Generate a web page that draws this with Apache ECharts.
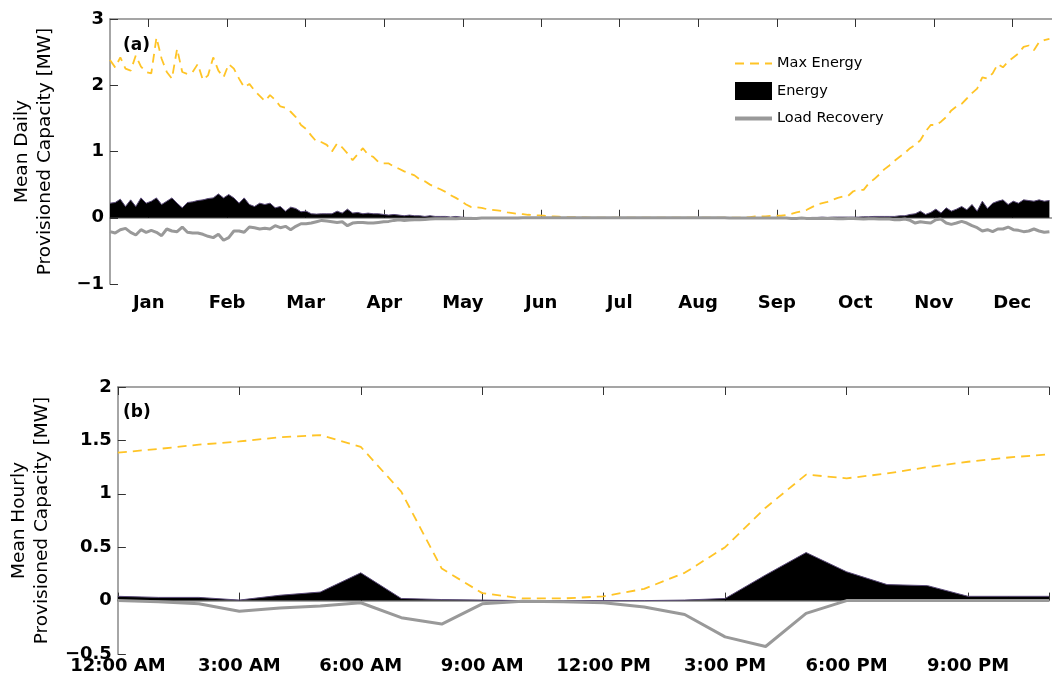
<!DOCTYPE html>
<html>
<head>
<meta charset="utf-8">
<script src="https://cdn.jsdelivr.net/npm/echarts@6/dist/echarts.min.js"></script>
<style>
html,body{margin:0;padding:0;background:#fff;}
#chart{width:1052px;height:683px;}
</style>
</head>
<body>
<div id="chart"></div>
<script>
// ---------- DATA ----------
const monthLabels = ['Jan','Feb','Mar','Apr','May','Jun','Jul','Aug','Sep','Oct','Nov','Dec'];
const monthTickDays = [15, 45.4, 75.8, 106.3, 136.7, 167.1, 197.5, 227.9, 258.4, 288.8, 319.2, 349.6];
const dayStep = 2; // one value every 2 days, starting at day 0

const maxEnergyDaily = [
  2.38, 2.27, 2.42, 2.25, 2.22, 2.45, 2.28, 2.20, 2.18, 2.72,
  2.40, 2.20, 2.10, 2.55, 2.20, 2.17, 2.20, 2.32, 2.08, 2.15,
  2.42, 2.22, 2.12, 2.32, 2.25, 2.10, 1.97, 2.02, 1.92, 1.84,
  1.76, 1.85, 1.78, 1.68, 1.66, 1.60, 1.52, 1.40, 1.34, 1.24,
  1.15, 1.14, 1.10, 1.00, 1.12, 1.06, 0.97, 0.87, 0.96, 1.05,
  0.95, 0.92, 0.84, 0.82, 0.82, 0.77, 0.74, 0.70, 0.67, 0.64,
  0.58, 0.55, 0.50, 0.46, 0.43, 0.39, 0.34, 0.30, 0.25, 0.20,
  0.16, 0.16, 0.15, 0.13, 0.12, 0.11, 0.10, 0.08, 0.07, 0.06,
  0.055, 0.045, 0.04, 0.035, 0.03, 0.025, 0.02, 0.015, 0.01, 0.01,
  0.01, 0.005, 0.005, 0, 0, 0, 0, 0, 0, 0,
  0, 0, 0, 0, 0, 0, 0, 0, 0, 0,
  0, 0, 0, 0, 0, 0, 0, 0, 0, 0,
  0, 0, 0, 0, 0.01, 0.02, 0.02, 0.02, 0.03, 0.03,
  0.03, 0.04, 0.06, 0.08, 0.10, 0.12, 0.16, 0.20, 0.22, 0.24,
  0.27, 0.30, 0.32, 0.33, 0.40, 0.42, 0.42, 0.52, 0.58, 0.65,
  0.73, 0.79, 0.86, 0.92, 0.98, 1.05, 1.10, 1.17, 1.30, 1.40,
  1.40, 1.45, 1.52, 1.62, 1.68, 1.72, 1.80, 1.88, 1.95, 2.12,
  2.10, 2.18, 2.32, 2.27, 2.36, 2.42, 2.48, 2.58, 2.60, 2.53,
  2.65, 2.68, 2.70
];

const energyDaily = [
  0.22, 0.23, 0.28, 0.17, 0.27, 0.17, 0.30, 0.22, 0.25, 0.30,
  0.20, 0.25, 0.30, 0.22, 0.15, 0.23, 0.24, 0.26, 0.27, 0.29,
  0.30, 0.36, 0.30, 0.35, 0.30, 0.22, 0.30, 0.20, 0.17, 0.22,
  0.20, 0.22, 0.15, 0.17, 0.10, 0.16, 0.14, 0.09, 0.10, 0.06,
  0.055, 0.06, 0.06, 0.06, 0.10, 0.07, 0.13, 0.07, 0.08, 0.06,
  0.07, 0.06, 0.06, 0.05, 0.04, 0.05, 0.04, 0.03, 0.04, 0.03,
  0.03, 0.02, 0.03, 0.02, 0.02, 0.02, 0.01, 0.02, 0.01, 0.005,
  0.005, 0, 0, 0, 0, 0, 0, 0, 0, 0,
  0, 0, 0, 0, 0, 0, 0, 0, 0, 0,
  0, 0, 0, 0, 0, 0, 0, 0, 0, 0,
  0, 0, 0, 0, 0, 0, 0, 0, 0, 0,
  0, 0, 0, 0, 0, 0, 0, 0, 0, 0,
  0, 0, 0, 0, 0, 0, 0, 0, 0, 0,
  0, 0, 0, 0, 0, 0, 0.005, 0.005, 0.01, 0.005,
  0.01, 0.01, 0.01, 0.01, 0.01, 0.01, 0.015, 0.015, 0.02, 0.02,
  0.02, 0.02, 0.02, 0.03, 0.03, 0.05, 0.06, 0.10, 0.05, 0.08,
  0.13, 0.07, 0.15, 0.10, 0.13, 0.17, 0.12, 0.20, 0.10, 0.25,
  0.14, 0.22, 0.25, 0.27, 0.20, 0.25, 0.22, 0.27, 0.26, 0.25,
  0.27, 0.25, 0.26
];

const loadRecoveryDaily = [
  -0.21, -0.23, -0.18, -0.16, -0.22, -0.26, -0.18, -0.22, -0.19, -0.22,
  -0.27, -0.17, -0.20, -0.21, -0.14, -0.22, -0.23, -0.23, -0.25, -0.28,
  -0.30, -0.25, -0.34, -0.30, -0.20, -0.20, -0.22, -0.14, -0.15, -0.17,
  -0.16, -0.17, -0.12, -0.15, -0.13, -0.18, -0.13, -0.09, -0.09, -0.08,
  -0.06, -0.04, -0.05, -0.06, -0.07, -0.06, -0.12, -0.08, -0.07, -0.07,
  -0.08, -0.08, -0.07, -0.06, -0.055, -0.04, -0.03, -0.04, -0.035, -0.03,
  -0.03, -0.025, -0.02, -0.015, -0.015, -0.015, -0.01, -0.015, -0.01, -0.01,
  -0.01, -0.01, -0.005, -0.005, -0.005, -0.005, -0.005, -0.005, -0.005, -0.005,
  0, 0, 0, 0, 0, 0, 0, 0, 0, 0,
  0, 0, 0, 0, 0, 0, 0, 0, 0, 0,
  0, 0, 0, 0, 0, 0, 0, 0, 0, 0,
  0, 0, 0, 0, 0, 0, 0, 0, 0, 0,
  -0.005, -0.005, -0.005, -0.005, -0.005, -0.005, -0.005, -0.005, -0.005, -0.005,
  -0.005, -0.005, -0.01, -0.01, -0.005, -0.01, -0.01, -0.01, -0.01, -0.01,
  -0.01, -0.015, -0.015, -0.01, -0.01, -0.015, -0.02, -0.015, -0.015, -0.02,
  -0.02, -0.02, -0.03, -0.03, -0.02, -0.04, -0.08, -0.06, -0.07, -0.08,
  -0.03, -0.02, -0.08, -0.10, -0.08, -0.055, -0.08, -0.12, -0.15, -0.20,
  -0.18, -0.21, -0.17, -0.17, -0.14, -0.18, -0.19, -0.21, -0.20, -0.17,
  -0.20, -0.22, -0.21
];

const hours = [0,1,2,3,4,5,6,7,8,9,10,11,12,13,14,15,16,17,18,19,20,21,22,23];
const hourTickLabels = ['12:00 AM','3:00 AM','6:00 AM','9:00 AM','12:00 PM','3:00 PM','6:00 PM','9:00 PM'];
const maxEnergyHourly = [1.385, 1.42, 1.46, 1.49, 1.53, 1.55, 1.44, 1.02, 0.30, 0.07, 0.02, 0.02,
                         0.04, 0.11, 0.26, 0.50, 0.87, 1.18, 1.145, 1.19, 1.25, 1.30, 1.34, 1.37];
const energyHourly = [0.04, 0.03, 0.03, 0.005, 0.05, 0.08, 0.26, 0.02, 0.01, 0.005, 0, 0,
                      0, 0, 0.005, 0.02, 0.24, 0.45, 0.27, 0.15, 0.14, 0.04, 0.04, 0.04];
const loadRecoveryHourly = [0, -0.01, -0.03, -0.10, -0.07, -0.05, -0.02, -0.16, -0.22, -0.03, -0.005, -0.01,
                            -0.02, -0.06, -0.13, -0.34, -0.43, -0.12, 0, 0, 0, 0, 0, 0];

// ---------- CHART ----------
const FONT = 'DejaVu Sans';
const YELLOW = '#FFC426';
const GRAY = '#999999';
const AXIS_COLOR = '#888888';
const minus = v => (v < 0 ? '\u2212' + Math.abs(v) : String(v));

const toDaily = arr => arr.map((v, i) => [i * dayStep, v]);
const toHourly = arr => arr.map((v, i) => [hours[i], v]);

function monthName(v) {
  let best = 0;
  monthTickDays.forEach((d, i) => { if (Math.abs(d - v) < Math.abs(monthTickDays[best] - v)) best = i; });
  return monthLabels[best];
}

const tickStyle = { show: true, inside: true, length: 8, lineStyle: { color: '#333', width: 1 } };
const lineAxis = { show: true, lineStyle: { color: AXIS_COLOR, width: 1.5 } };
const labelFont = { fontFamily: FONT, fontWeight: 'bold', fontSize: 18, color: '#000' };
const nameFont = { fontFamily: FONT, fontSize: 18.5, color: '#000', lineHeight: 23 };

const chart = echarts.init(document.getElementById('chart'), null, { renderer: 'canvas' });

chart.setOption({
  animation: false,
  backgroundColor: '#fff',
  grid: [
    { left: 110, top: 19, width: 955, height: 265 },
    { left: 113, top: 387, width: 947, height: 267 }
  ],
  title: [
    { text: '(a)', left: 118, top: 32, textStyle: { fontFamily: FONT, fontWeight: 'bold', fontSize: 17, color: '#000' } },
    { text: '(b)', left: 118, top: 399, textStyle: { fontFamily: FONT, fontWeight: 'bold', fontSize: 17, color: '#000' } }
  ],
  legend: {
    orient: 'vertical',
    left: 733,
    top: 56,
    padding: 0,
    itemWidth: 37,
    itemHeight: 18,
    itemGap: 11,
    textStyle: { fontFamily: FONT, fontSize: 14.5, color: '#000' },
    data: [
      { name: 'Max Energy', itemStyle: { opacity: 0 }, lineStyle: { width: 2 } },
      { name: 'Energy', icon: 'rect', itemStyle: { color: '#000' } },
      { name: 'Load Recovery', itemStyle: { opacity: 0 }, lineStyle: { width: 4 } }
    ]
  },
  xAxis: [
    {
      gridIndex: 0, type: 'value', min: 0, max: 365, position: 'bottom',
      axisLine: lineAxis,
      axisTick: Object.assign({ customValues: monthTickDays }, tickStyle),
      axisLabel: Object.assign({ customValues: monthTickDays, margin: 10, formatter: v => monthName(v) }, labelFont),
      splitLine: { show: false }
    },
    {
      gridIndex: 0, type: 'value', min: 0, max: 365, position: 'top',
      axisLine: lineAxis,
      axisTick: Object.assign({ customValues: monthTickDays }, tickStyle),
      axisLabel: { show: false },
      splitLine: { show: false }
    },
    {
      gridIndex: 1, type: 'value', min: 0, max: 23, interval: 3, position: 'bottom',
      axisLine: lineAxis,
      axisTick: tickStyle,
      axisLabel: Object.assign({ margin: 3, formatter: v => hourTickLabels[Math.round(v / 3)] }, labelFont),
      splitLine: { show: false }
    },
    {
      gridIndex: 1, type: 'value', min: 0, max: 23, interval: 3, position: 'top',
      axisLine: lineAxis,
      axisTick: tickStyle,
      axisLabel: { show: false },
      splitLine: { show: false }
    }
  ],
  yAxis: [
    {
      gridIndex: 0, type: 'value', min: -1, max: 3, interval: 1,
      axisLine: lineAxis, axisTick: tickStyle,
      axisLabel: Object.assign({ margin: 6, formatter: minus }, labelFont),
      splitLine: { show: false },
      name: 'Mean Daily\nProvisioned Capacity [MW]',
      nameLocation: 'middle', nameGap: 53, nameRotate: 90,
      nameTextStyle: nameFont
    },
    {
      gridIndex: 1, type: 'value', min: -0.5, max: 2, interval: 0.5,
      axisLine: lineAxis, axisTick: tickStyle,
      axisLabel: Object.assign({ margin: 6, formatter: minus }, labelFont),
      splitLine: { show: false },
      name: 'Mean Hourly\nProvisioned Capacity [MW]',
      nameLocation: 'middle', nameGap: 56, nameRotate: 90,
      nameTextStyle: nameFont
    }
  ],
  series: [
    {
      name: 'Max Energy', type: 'line', xAxisIndex: 0, yAxisIndex: 0,
      data: toDaily(maxEnergyDaily), showSymbol: false, symbol: 'none',
      lineStyle: { color: YELLOW, width: 1.8, type: [9, 6] }, itemStyle: { color: YELLOW }, z: 2
    },
    {
      name: 'Energy', type: 'line', xAxisIndex: 0, yAxisIndex: 0,
      data: toDaily(energyDaily), showSymbol: false, symbol: 'none',
      lineStyle: { color: '#5a4a78', width: 1 }, itemStyle: { color: '#000' },
      areaStyle: { color: '#000', opacity: 1, origin: 0 }, z: 3
    },
    {
      name: 'Load Recovery', type: 'line', xAxisIndex: 0, yAxisIndex: 0,
      data: toDaily(loadRecoveryDaily), showSymbol: false, symbol: 'none',
      lineStyle: { color: GRAY, width: 3 }, itemStyle: { color: GRAY }, z: 4
    },
    {
      name: 'Max Energy', type: 'line', xAxisIndex: 2, yAxisIndex: 1,
      data: toHourly(maxEnergyHourly), showSymbol: false, symbol: 'none',
      lineStyle: { color: YELLOW, width: 1.8, type: [9, 6] }, itemStyle: { color: YELLOW }, z: 2
    },
    {
      name: 'Energy', type: 'line', xAxisIndex: 2, yAxisIndex: 1,
      data: toHourly(energyHourly), showSymbol: false, symbol: 'none',
      lineStyle: { color: '#5a4a78', width: 1 }, itemStyle: { color: '#000' },
      areaStyle: { color: '#000', opacity: 1, origin: 0 }, z: 3
    },
    {
      name: 'Load Recovery', type: 'line', xAxisIndex: 2, yAxisIndex: 1,
      data: toHourly(loadRecoveryHourly), showSymbol: false, symbol: 'none',
      lineStyle: { color: GRAY, width: 3 }, itemStyle: { color: GRAY }, z: 4
    }
  ]
});
</script>
</body>
</html>
